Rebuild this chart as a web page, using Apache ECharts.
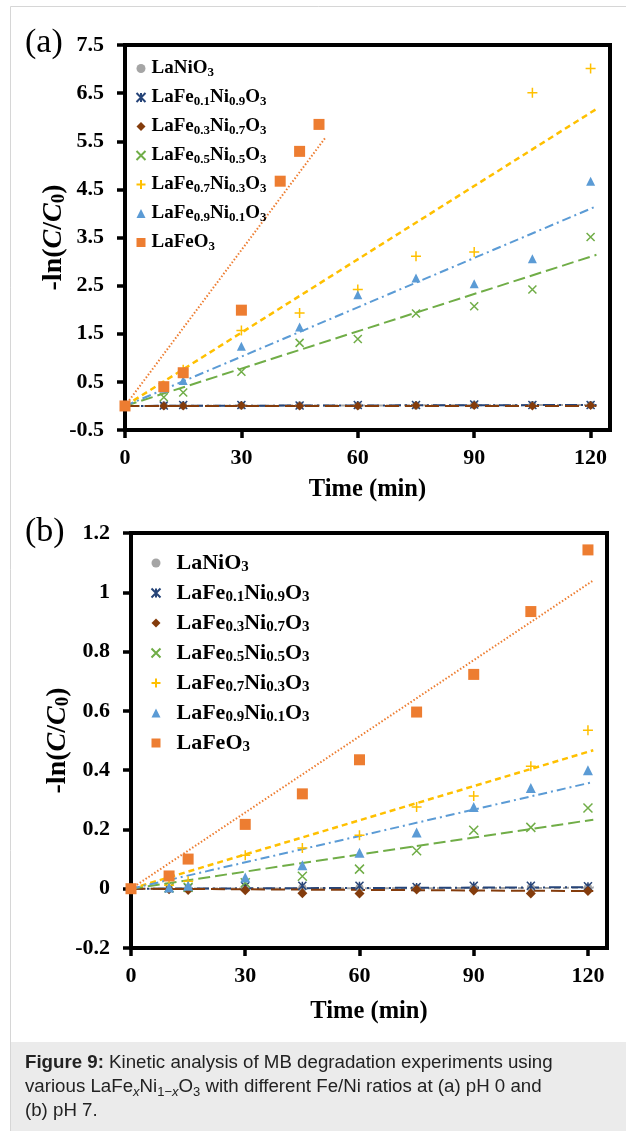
<!DOCTYPE html>
<html>
<head>
<meta charset="utf-8">
<script src="https://cdn.jsdelivr.net/npm/echarts@6/dist/echarts.min.js"></script>
<style>
  html, body { margin: 0; padding: 0; background: #ffffff; }
  #chart { width: 626px; height: 1131px; }
</style>
</head>
<body>
<div id="chart"></div>
<script>
// Samples (legend order) and their marker colours
const sampleNames = ['LaNiO3', 'LaFe0.1Ni0.9O3', 'LaFe0.3Ni0.7O3', 'LaFe0.5Ni0.5O3', 'LaFe0.7Ni0.3O3', 'LaFe0.9Ni0.1O3', 'LaFeO3'];
const sampleColors = ['#a5a5a5', '#264478', '#843c0c', '#70ad47', '#ffc000', '#5b9bd5', '#ed7d31'];

// Sampling times (min)
const timesA = [0, 10, 15, 30, 45, 60, 75, 90, 105, 120];
const timesAFeO3 = [0, 10, 15, 30, 40, 45, 50];
const timesB = [0, 10, 15, 30, 45, 60, 75, 90, 105, 120];

// (a) pH 0 : -ln(C/C0)
const phA_LaNiO3 = [0, 0.01, 0.01, 0.01, 0.01, 0.01, 0.01, 0.02, 0.02, 0.02];
const phA_Fe01 = [0, 0.01, 0.02, 0.02, 0.01, 0.02, 0.02, 0.03, 0.02, 0.02];
const phA_Fe03 = [0, 0.00, 0.00, 0.01, 0.00, 0.00, 0.01, 0.01, 0.00, 0.01];
const phA_Fe05 = [0, 0.18, 0.28, 0.71, 1.31, 1.39, 1.92, 2.07, 2.42, 3.51];
const phA_Fe07 = [0, 0.42, 0.75, 1.57, 1.93, 2.42, 3.11, 3.20, 6.51, 7.01];
const phA_Fe09 = [0, 0.37, 0.53, 1.24, 1.64, 2.31, 2.66, 2.54, 3.06, 4.67];
const phA_LaFeO3 = [0, 0.40, 0.69, 1.99, 4.67, 5.29, 5.85];

// (a) linear fits through the origin: end point of each trend line
const fitEndTimeA = [121.5, 121.5, 121.5, 121.5, 121.5, 121.5, 51.7];
const fitEndValueA = [0.02, 0.02, 0.00, 3.14, 6.17, 4.15, 5.58];

// (b) pH 7 : -ln(C/C0)
const phB_LaNiO3 = [0, 0.000, 0.000, 0.002, 0.003, 0.003, 0.002, 0.003, 0.003, 0.004];
const phB_Fe01 = [0, 0.002, 0.003, 0.008, 0.010, 0.010, 0.006, 0.010, 0.010, 0.008];
const phB_Fe03 = [0, -0.002, -0.004, -0.005, -0.015, -0.016, -0.003, -0.006, -0.016, -0.008];
const phB_Fe05 = [0, 0.003, 0.005, 0.020, 0.042, 0.066, 0.128, 0.197, 0.207, 0.272];
const phB_Fe07 = [0, 0.012, 0.025, 0.113, 0.137, 0.180, 0.276, 0.313, 0.413, 0.535];
const phB_Fe09 = [0, 0.004, 0.010, 0.038, 0.079, 0.121, 0.190, 0.276, 0.340, 0.400];
const phB_LaFeO3 = [0, 0.043, 0.100, 0.217, 0.320, 0.435, 0.596, 0.723, 0.935, 1.143];

// (b) linear fits through the origin
const fitEndTimeB = [121.4, 121.4, 121.4, 121.4, 121.4, 121.4, 121.4];
const fitEndValueB = [0.003, 0.005, -0.008, 0.233, 0.467, 0.360, 1.040];

// Axis ticks
const xTickInterval = 30;
const yTicksA = { min: -0.5, max: 7.5, interval: 1 };
const yTicksB = { min: -0.2, max: 1.2, interval: 0.2 };

const SERIF = 'Liberation Serif';
const SANS = 'Liberation Sans';

const markerSymbols = [
  'circle',
  'path://M0,0L10,10M10,0L0,10M5,0L5,10',
  'diamond',
  'path://M0,0L10,10M10,0L0,10',
  'path://M5,0L5,10M0,5L10,5',
  'triangle',
  'rect'
];
const strokeMarker = [false, true, false, true, true, false, false];
const markerSizeA = [8, 8, 9, 8, 10, 9, 11];
const markerSizeB = [8, 8, 10, 9, 10, 10, 11];

const fitLineStyles = [
  { type: [6, 3], width: 2 },
  { type: [12, 4, 2, 4], width: 2 },
  { type: [14, 6], width: 2 },
  { type: [12, 5], width: 2 },
  { type: [6, 4], width: 2.5 },
  { type: [9, 4, 2, 4], width: 2 },
  { type: [1.5, 2], width: 2 }
];

const seriesValuesA = [phA_LaNiO3, phA_Fe01, phA_Fe03, phA_Fe05, phA_Fe07, phA_Fe09, phA_LaFeO3];
const seriesTimesA = [timesA, timesA, timesA, timesA, timesA, timesA, timesAFeO3];
const seriesValuesB = [phB_LaNiO3, phB_Fe01, phB_Fe03, phB_Fe05, phB_Fe07, phB_Fe09, phB_LaFeO3];
const seriesTimesB = [timesB, timesB, timesB, timesB, timesB, timesB, timesB];

// Chemical formula -> rich text with subscripted stoichiometry
function formulaRich(name) {
  return '{p| }' + name.split(/(\d+(?:\.\d+)?)/).filter(s => s.length).map(part =>
    /^\d/.test(part) ? '{s|' + part + '}' : '{m|' + part + '}'
  ).join('');
}

function buildPanelSeries(panel, times, values, sizes, fitT, fitV) {
  const out = [];
  // trend lines first so markers sit above them
  for (let i = 0; i < sampleNames.length; i++) {
    out.push({
      name: sampleNames[i] + ' linear fit',
      type: 'line',
      xAxisIndex: panel, yAxisIndex: panel,
      data: [[0, 0], [fitT[i], fitV[i]]],
      showSymbol: false,
      silent: true,
      lineStyle: { color: sampleColors[i], width: fitLineStyles[i].width, type: fitLineStyles[i].type, cap: 'butt' },
      z: 2
    });
  }
  for (let i = 0; i < sampleNames.length; i++) {
    out.push({
      name: sampleNames[i],
      type: 'scatter',
      xAxisIndex: panel, yAxisIndex: panel,
      data: times[i].map((t, k) => [t, values[i][k]]),
      symbol: markerSymbols[i],
      symbolSize: sizes[i],
      itemStyle: strokeMarker[i]
        ? { color: sampleColors[i], borderColor: sampleColors[i], borderWidth: 1.5, opacity: 1 }
        : { color: sampleColors[i], opacity: 1 },
      z: 3
    });
  }
  return out;
}

function yAxisCfg(gridIdx, ticks, nameGap) {
  return {
    type: 'value', gridIndex: gridIdx,
    min: ticks.min, max: ticks.max, interval: ticks.interval,
    name: '{b|-ln(}{i|C}{b|/}{i|C}{s|0}{b|)}',
    nameLocation: 'middle', nameGap: nameGap, nameRotate: 90,
    nameMoveOverlap: false,
    nameTextStyle: {
      rich: {
        b: { fontFamily: SERIF, fontWeight: 'bold', fontSize: 28, color: '#000', lineHeight: 30 },
        i: { fontFamily: SERIF, fontWeight: 'bold', fontStyle: 'italic', fontSize: 28, color: '#000', lineHeight: 30 },
        s: { fontFamily: SERIF, fontWeight: 'bold', fontSize: 19, color: '#000', verticalAlign: 'bottom', lineHeight: 19 }
      }
    },
    axisLine: { show: true, onZero: false, lineStyle: { color: '#000', width: 4 } },
    axisTick: { show: true, inside: false, length: 8, lineStyle: { color: '#000', width: 3.5 } },
    axisLabel: {
      margin: 21, fontFamily: SERIF, fontWeight: 'bold', fontSize: 22, color: '#000',
      formatter: v => String(Math.round(v * 10) / 10)
    },
    splitLine: { show: false }
  };
}

function xAxisCfg(gridIdx, nameGap) {
  return {
    type: 'value', gridIndex: gridIdx,
    min: 0, max: 125, interval: xTickInterval,
    name: 'Time (min)',
    nameLocation: 'middle', nameGap: nameGap,
    nameMoveOverlap: false,
    nameTextStyle: { fontFamily: SERIF, fontWeight: 'bold', fontSize: 24.5, color: '#000' },
    axisLine: { show: true, onZero: false, lineStyle: { color: '#000', width: 4 } },
    axisTick: { show: true, inside: false, length: 8, lineStyle: { color: '#000', width: 3.5 } },
    axisLabel: {
      margin: 17, fontFamily: SERIF, fontWeight: 'bold', fontSize: 22, color: '#000',
      showMaxLabel: false,
      formatter: v => (v % xTickInterval === 0 ? String(v) : '')
    },
    splitLine: { show: false }
  };
}

function legendCfg(left, top, textShift, fontSize, subSize, lineH, gap) {
  return {
    orient: 'vertical', left: left, top: top, padding: 0,
    data: sampleNames,
    selectedMode: false,
    itemWidth: 9, itemHeight: 9, itemGap: gap,
    symbolKeepAspect: true,
    formatter: name => formulaRich(name),
    textStyle: {
      rich: {
        p: { width: textShift, fontSize: 4, lineHeight: lineH },
        m: { fontFamily: SERIF, fontWeight: 'bold', fontSize: fontSize, color: '#000', lineHeight: lineH },
        s: { fontFamily: SERIF, fontWeight: 'bold', fontSize: subSize, color: '#000', verticalAlign: 'bottom', lineHeight: subSize }
      }
    }
  };
}

const chart = echarts.init(document.getElementById('chart'), null, { renderer: 'canvas' });

const option = {
  backgroundColor: '#ffffff',
  animation: false,
  grid: [
    { left: 125, top: 45, width: 485, height: 385, show: true, borderColor: '#000', borderWidth: 4, backgroundColor: 'transparent' },
    { left: 131, top: 533, width: 476, height: 415, show: true, borderColor: '#000', borderWidth: 4, backgroundColor: 'transparent' }
  ],
  xAxis: [xAxisCfg(0, 47), xAxisCfg(1, 51)],
  yAxis: [yAxisCfg(0, yTicksA, 56), yAxisCfg(1, yTicksB, 58)],
  legend: [
    legendCfg(135.5, 59, 1, 19, 13, 22, 8.5),
    legendCfg(150.5, 552, 11, 22, 15, 24, 7)
  ],
  series: [].concat(
    buildPanelSeries(0, seriesTimesA, seriesValuesA, markerSizeA, fitEndTimeA, fitEndValueA),
    buildPanelSeries(1, seriesTimesB, seriesValuesB, markerSizeB, fitEndTimeB, fitEndValueB)
  ),
  graphic: [
    { type: 'rect', silent: true, z: -10, shape: { x: 10.5, y: 6.5, width: 640, height: 1140 },
      style: { fill: '#ffffff', stroke: '#d6d6d6', lineWidth: 1 } },
    { type: 'rect', silent: true, z: -9, shape: { x: 11, y: 1042, width: 620, height: 95 },
      style: { fill: '#ebebeb' } },
    { type: 'text', left: 25, top: 26, silent: true,
      style: { text: '(a)', fontFamily: SERIF, fontSize: 34, fill: '#000' } },
    { type: 'text', left: 25, top: 515, silent: true,
      style: { text: '(b)', fontFamily: SERIF, fontSize: 34, fill: '#000' } },
    { type: 'text', left: 25, top: 1051, silent: true,
      style: {
        text: '{b|Figure 9:} Kinetic analysis of MB degradation experiments using\n' +
              'various LaFe{si|x}Ni{s|1−}{si|x}O{s|3} with different Fe/Ni ratios at (a) pH 0 and\n' +
              '(b) pH 7.',
        fontFamily: SANS, fontSize: 18.7, fill: '#222', lineHeight: 24,
        rich: {
          b: { fontFamily: SANS, fontSize: 18.7, fontWeight: 'bold', fill: '#222', lineHeight: 24 },
          s: { fontFamily: SANS, fontSize: 13, fill: '#222', verticalAlign: 'bottom', lineHeight: 14 },
          si: { fontFamily: SANS, fontSize: 13, fontStyle: 'italic', fill: '#222', verticalAlign: 'bottom', lineHeight: 14 }
        }
      } }
  ]
};

chart.setOption(option);
</script>
</body>
</html>
